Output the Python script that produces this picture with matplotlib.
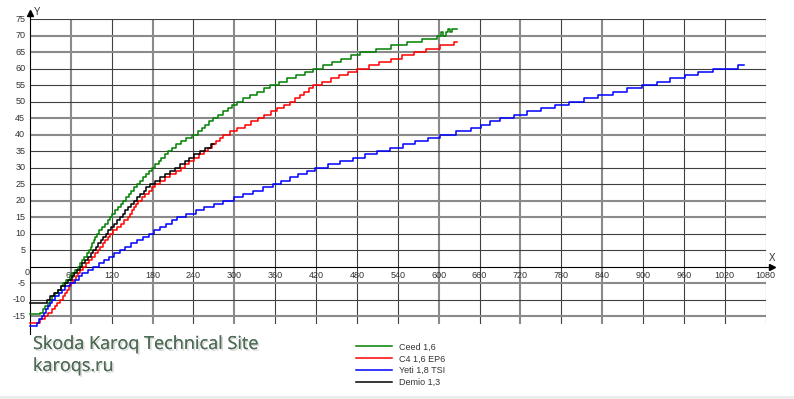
import matplotlib.pyplot as plt
from matplotlib.patches import Rectangle
import matplotlib.patheffects as pe

# step curves: temperature level (deg) and the time (s) it is reached
ceed_temp = [-14.5, -14, -13, -12, -11, -10, -9, -8, -7, -6, -5, -4, -3, -2, -1, 0,
             1, 2, 3, 4, 5, 6, 7, 8, 9, 10, 11, 12, 13, 14, 15, 16, 17, 18, 19, 20,
             21, 22, 23, 24, 25, 26, 27, 28, 29, 30, 31, 32, 33, 34, 35, 36, 37, 38, 39, 40,
             41, 42, 43, 44, 45, 46, 47, 48, 49, 50, 51, 52, 53, 54, 55, 56, 57, 58, 59, 60,
             61, 62, 63, 64, 65, 66, 67, 68, 69, 70, 71, 70, 71, 72, 71, 72]
ceed_time = [0, 15, 19, 22, 26, 29, 33, 37, 41, 45, 49, 53, 58, 62, 66, 70,
             73, 76, 80, 83, 86, 89, 91, 94, 96, 99, 102, 106, 110, 114, 117, 121, 125, 129, 133, 137,
             141, 145, 149, 153, 157, 161, 166, 170, 175, 179, 184, 189, 193, 198, 203, 208, 214, 221, 229, 238,
             246, 252, 257, 263, 269, 276, 283, 290, 297, 304, 313, 323, 333, 343, 353, 365, 378, 390, 403, 416,
             430, 444, 457, 471, 485, 508, 530, 553, 575, 598, 604, 607, 610, 613, 616, 619]
ceed_end = 627

c4_temp = [-17, -16, -15, -14, -13, -12, -11, -10, -9, -8, -7, -6, -5, -4, -3, -2, -1, 0,
           1, 2, 3, 4, 5, 6, 7, 8, 9, 10, 11, 12, 13, 14, 15, 16, 17, 18, 19, 20,
           21, 22, 23, 24, 25, 26, 27, 28, 29, 30, 31, 32, 33, 34, 35, 36, 37, 38, 39, 40,
           41, 42, 43, 44, 45, 46, 47, 48, 49, 50, 51, 52, 53, 54, 55, 56, 57, 58, 59, 60,
           61, 62, 63, 64, 65, 66, 67, 68]
c4_time = [0, 15, 22, 27, 32, 36, 39, 44, 48, 51, 54, 57, 60, 63, 67, 70, 74, 78,
           82, 87, 91, 95, 100, 103, 107, 110, 114, 117, 122, 127, 133, 138, 144, 147, 150, 153, 156, 159,
           164, 169, 174, 179, 184, 191, 198, 206, 214, 222, 228, 234, 241, 248, 255, 261, 267, 273, 279, 284,
           294, 304, 315, 325, 335, 344, 354, 363, 373, 382, 389, 396, 402, 409, 416, 429, 442, 454, 467, 480,
           497, 513, 530, 546, 563, 582, 602, 622]
c4_end = 627

yeti_temp = [-18, -17, -16, -15, -14, -13, -12, -11, -10, -9, -8, -7, -6, -5, -4, -3, -2, -1, 0,
             1, 2, 3, 4, 5, 6, 7, 8, 9, 10, 11, 12, 13, 14, 15, 16, 17, 18, 19, 20,
             21, 22, 23, 24, 25, 26, 27, 28, 29, 30, 31, 32, 33, 34, 35, 36, 37, 38, 39, 40,
             41, 42, 43, 44, 45, 46, 47, 48, 49, 50, 51, 52, 53, 54, 55, 56, 57, 58, 59, 60, 61]
yeti_time = [0, 10, 13, 17, 20, 23, 26, 29, 32, 37, 42, 47, 52, 58, 66, 72, 77, 85, 93,
             101, 109, 116, 124, 132, 140, 149, 157, 166, 174, 182, 191, 199, 208, 216, 229, 243, 256, 270, 284,
             299, 313, 328, 342, 357, 369, 382, 394, 407, 419, 437, 455, 474, 492, 510, 528, 547, 565, 584, 602,
             625, 648, 662, 676, 690, 710, 730, 750, 771, 791, 813, 834, 856, 877, 899, 920, 940, 961, 981, 1002, 1040]
yeti_end = 1048

demio_temp = [-11, -10, -9, -8, -7, -6, -5, -4, -3, -2, -1, 0,
              1, 2, 3, 4, 5, 6, 7, 8, 9, 10, 11, 12, 13, 14, 15, 16, 17, 18, 19, 20,
              21, 22, 23, 24, 25, 26, 27, 28, 29, 30, 31, 32, 33, 34, 35, 36, 37]
demio_time = [0, 25, 30, 35, 41, 46, 52, 56, 61, 65, 69, 73,
              77, 81, 85, 89, 93, 97, 100, 104, 107, 111, 115, 119, 123, 128, 132, 136, 140, 144, 148, 152,
              157, 162, 167, 171, 176, 183, 191, 198, 206, 213, 220, 227, 234, 241, 249, 257, 265]
demio_end = 270

series_names = ["Ceed 1,6", "C4 1,6 EP6", "Yeti 1,8 TSI", "Demio 1,3"]
x_ticks = [0, 60, 120, 180, 240, 300, 360, 420, 480, 540, 600, 660, 720, 780, 840, 900, 960, 1020, 1080]
y_ticks = [75, 70, 65, 60, 55, 50, 45, 40, 35, 30, 25, 20, 15, 10, 5, -5, -10, -15]

W, H = 794, 399
fig = plt.figure(figsize=(W / 100, H / 100), dpi=100)
fig.patch.set_facecolor("white")

# plot box in pixels: x 0..1080 -> 30..765.7, y -17.4..75 -> 324..19
ax = fig.add_axes([30 / W, 1 - 324 / H, 735.7 / W, 305 / H])
ax.set_xlim(0, 1080)
ax.set_ylim(-17.4, 75)
ax.axis("off")

# grid (some lines came out grey/wider in the original, some dark/thin)
gray_x = [60, 180, 300, 600, 720, 840]
gray_y = [70, 65, 45, 40, 20, 15, -5, -15]
for v in x_ticks[1:]:
    if v in gray_x:
        ax.axvline(v, color="#8a8a8a", lw=1.5, zorder=1)
    else:
        ax.axvline(v, color="#404040", lw=0.8, zorder=1)
for v in y_ticks:
    if v in gray_y:
        ax.axhline(v, color="#8a8a8a", lw=1.5, zorder=1)
    else:
        ax.axhline(v, color="#404040", lw=0.8, zorder=1)

# axes with arrows
ax.plot([0, 0], [-20.5, 76.5], color="black", lw=0.8, clip_on=False, zorder=2)
ax.plot([0], [76.8], marker="^", color="black", ms=5, clip_on=False, zorder=2)
ax.text(6, 77.0, "Y", fontsize=7, color="#333333", family="Liberation Sans",
        va="center", ha="left", clip_on=False)
ax.plot([0, 1085], [0, 0], color="black", lw=0.8, clip_on=False, zorder=2)
ax.plot([1089], [0], marker=">", color="black", ms=5, clip_on=False, zorder=2)
ax.text(1090, 2.6, "X", fontsize=7, color="#333333", family="Liberation Sans",
        va="center", ha="center", clip_on=False)

# tick labels
for v in x_ticks:
    if v == 0:
        ax.text(-4, -0.3, "0", fontsize=6.5, color="#333333", family="Liberation Sans",
                ha="center", va="top", clip_on=False)
    else:
        ax.text(v, -1.2, str(v), fontsize=6.5, color="#333333", family="Liberation Sans",
                ha="center", va="top", clip_on=False)
for v in y_ticks:
    ax.text(-7, v, str(v), fontsize=6.5, color="#333333", family="Liberation Sans",
            ha="right", va="center", clip_on=False)

# curves
curves = [
    (ceed_time, ceed_temp, ceed_end, "#008000"),
    (c4_time, c4_temp, c4_end, "#ff0000"),
    (yeti_time, yeti_temp, yeti_end, "#0000ff"),
    (demio_time, demio_temp, demio_end, "#000000"),
]
handles = []
for (t, temp, t_end, col), name in zip(curves, series_names):
    h, = ax.step(t + [t_end], temp + [temp[-1]], where="post", color=col, lw=1.1,
                 label=name, zorder=3, clip_on=False)
    handles.append(h)

leg = fig.legend(handles=handles, loc="upper left", bbox_to_anchor=(352 / W, 1 - 339 / H),
                 frameon=False, handlelength=4.0, handletextpad=0.8,
                 labelspacing=0.3, borderaxespad=0, prop={"family": "Liberation Sans", "size": 6.5})
for txt in leg.get_texts():
    txt.set_color("#333333")

# watermark
shadow = [pe.withSimplePatchShadow(offset=(1.2, -1.2), shadow_rgbFace="#d8d8d8", alpha=1), pe.Normal()]
fig.text(33 / W, 1 - 349 / H, "Skoda Karoq Technical Site", fontsize=13, color="#4e6b55",
         family="Open Sans", ha="left", va="baseline", path_effects=shadow)
fig.text(33 / W, 1 - 371 / H, "karoqs.ru", fontsize=13, color="#4e6b55",
         family="Open Sans", ha="left", va="baseline", path_effects=shadow)

# light strip at the bottom edge
fig.add_artist(Rectangle((0, 0), 1, 3 / H, transform=fig.transFigure, color="#ececec", lw=0))

fig.savefig("out.png", dpi=100)
